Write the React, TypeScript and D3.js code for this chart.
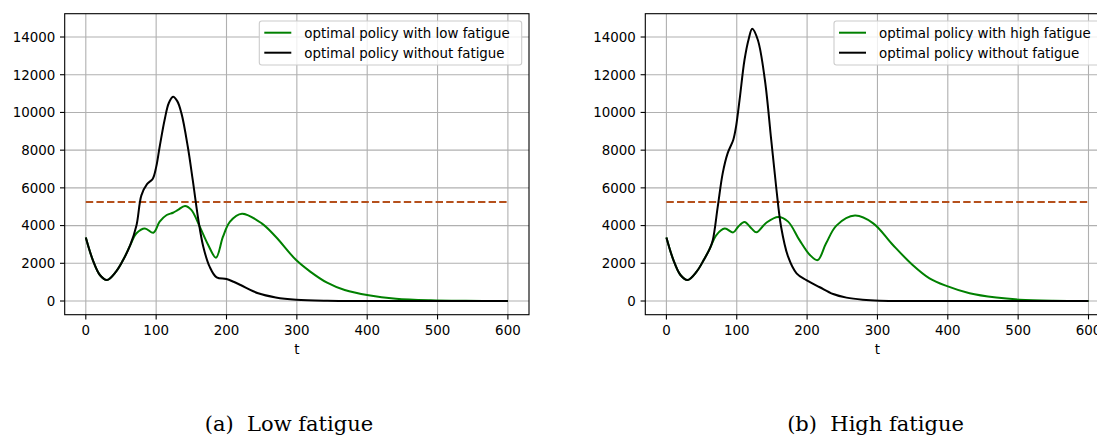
import React, { useEffect, useRef } from "react";
import * as d3 from "d3";

// Low fatigue panel
const tLowFatigue = [0, 10, 20, 30, 43, 53, 63, 72, 84, 96, 105, 115, 124, 131, 141, 150, 162, 174, 185, 195, 205, 222, 250, 270, 299, 319, 343, 368, 402, 441, 490, 540, 600];
const valLowFatigue = [3370, 2170, 1380, 1110, 1560, 2170, 2950, 3590, 3850, 3620, 4210, 4560, 4680, 4830, 5040, 4830, 3940, 2970, 2300, 3410, 4210, 4630, 4120, 3410, 2170, 1560, 970, 580, 300, 120, 35, 8, 2];
const tLowNoFatigue = [0, 10, 20, 30, 43, 53, 63, 72, 79, 87, 95, 100, 105, 112, 118, 124, 130, 136, 145, 152, 160, 167, 176, 186, 200, 210, 220, 245, 270, 299, 343, 400, 600];
const valLowNoFatigue = [3370, 2170, 1380, 1110, 1560, 2170, 2950, 4000, 5600, 6200, 6470, 7100, 8180, 9600, 10500, 10830, 10600, 9950, 8180, 6420, 4300, 2880, 1820, 1250, 1170, 1020, 850, 410, 190, 70, 15, 2, 0];

// High fatigue panel
const tHighFatigue = [0, 10, 20, 30, 43, 53, 62, 71, 83, 95, 102, 111, 121, 128, 142, 159, 173, 189, 204, 215, 227, 242, 268, 294, 322, 350, 374, 398, 431, 469, 502, 550, 600];
const valHighFatigue = [3370, 2170, 1380, 1110, 1560, 2170, 2800, 3500, 3840, 3640, 3940, 4190, 3850, 3640, 4150, 4460, 4210, 3240, 2440, 2170, 3060, 4010, 4530, 4120, 2970, 1910, 1200, 800, 410, 180, 70, 15, 2];
const tHighNoFatigue = [0, 10, 20, 30, 43, 53, 62, 66, 73, 80, 87, 95, 99, 104, 111, 117, 122, 130, 140, 149, 156, 163, 173, 185, 199, 218, 237, 256, 279, 303, 350, 600];
const valHighNoFatigue = [3370, 2170, 1380, 1110, 1560, 2170, 2800, 3240, 5000, 6770, 7830, 8540, 9250, 10660, 12780, 13900, 14440, 13840, 11720, 8540, 6060, 3940, 2350, 1470, 1110, 730, 370, 180, 70, 20, 3, 0];

const threshold = 5250;
const thresholdRange = [0, 600];
const xTicks = [0, 100, 200, 300, 400, 500, 600];
const yTicks = [0, 2000, 4000, 6000, 8000, 10000, 12000, 14000];

const FONT = "DejaVu Sans, sans-serif";

interface PanelSpec {
  left: number;
  right: number;
  fatigueLabel: string;
  noFatigueLabel: string;
  tFat: number[];
  vFat: number[];
  tNo: number[];
  vNo: number[];
  caption: string;
  captionX: number;
  legendX: number;
  legendW: number;
}

const panels: PanelSpec[] = [
  {
    left: 64.7, right: 529,
    fatigueLabel: "optimal policy with low fatigue",
    noFatigueLabel: "optimal policy without fatigue",
    tFat: tLowFatigue, vFat: valLowFatigue, tNo: tLowNoFatigue, vNo: valLowNoFatigue,
    caption: "(a)  Low fatigue", captionX: 289, legendX: 259.3, legendW: 262.4,
  },
  {
    left: 645.3, right: 1109.6,
    fatigueLabel: "optimal policy with high fatigue",
    noFatigueLabel: "optimal policy without fatigue",
    tFat: tHighFatigue, vFat: valHighFatigue, tNo: tHighNoFatigue, vNo: valHighNoFatigue,
    caption: "(b)  High fatigue", captionX: 875.5, legendX: 834, legendW: 268.5,
  },
];

const App: React.FC = () => {
  const svgRef = useRef<SVGSVGElement>(null);

  useEffect(() => {
    if (!svgRef.current) return;
    const root = d3.select(svgRef.current);
    root.selectAll("*").remove();

    const top = 13.7;
    const bottom = 314.7;

    const y = d3.scaleLinear().domain([-726, 15236]).range([bottom, top]);

    panels.forEach((p, i) => {
      const x = d3.scaleLinear().domain([-30, 630]).range([p.left, p.right]);
      const g = root.append("g");
      const clipId = `clip-${i}`;
      g.append("clipPath")
        .attr("id", clipId)
        .append("rect")
        .attr("x", p.left)
        .attr("y", top)
        .attr("width", p.right - p.left)
        .attr("height", bottom - top);

      // Grid
      g.selectAll(".gx")
        .data(xTicks)
        .enter()
        .append("line")
        .attr("x1", (d) => x(d))
        .attr("x2", (d) => x(d))
        .attr("y1", top)
        .attr("y2", bottom)
        .attr("stroke", "#b0b0b0")
        .attr("stroke-width", 1.1);
      g.selectAll(".gy")
        .data(yTicks)
        .enter()
        .append("line")
        .attr("x1", p.left)
        .attr("x2", p.right)
        .attr("y1", (d) => y(d))
        .attr("y2", (d) => y(d))
        .attr("stroke", "#b0b0b0")
        .attr("stroke-width", 1.1);

      const plot = g.append("g").attr("clip-path", `url(#${clipId})`);

      // Threshold
      plot
        .append("line")
        .attr("x1", x(thresholdRange[0]))
        .attr("x2", x(thresholdRange[1]))
        .attr("y1", y(threshold))
        .attr("y2", y(threshold))
        .attr("stroke", "#b5501c")
        .attr("stroke-width", 2)
        .attr("stroke-dasharray", "7.4,3.2");

      const line = d3
        .line<[number, number]>()
        .x((d) => x(d[0]))
        .y((d) => y(d[1]))
        .curve(d3.curveCatmullRom.alpha(0.5));

      plot
        .append("path")
        .attr("d", line(d3.zip(p.tFat, p.vFat) as [number, number][]))
        .attr("fill", "none")
        .attr("stroke", "#008000")
        .attr("stroke-width", 2);
      plot
        .append("path")
        .attr("d", line(d3.zip(p.tNo, p.vNo) as [number, number][]))
        .attr("fill", "none")
        .attr("stroke", "#000000")
        .attr("stroke-width", 2);

      // Frame
      g.append("rect")
        .attr("x", p.left)
        .attr("y", top)
        .attr("width", p.right - p.left)
        .attr("height", bottom - top)
        .attr("fill", "none")
        .attr("stroke", "#000")
        .attr("stroke-width", 1.1);

      // Ticks
      g.selectAll(".tx")
        .data(xTicks)
        .enter()
        .append("line")
        .attr("x1", (d) => x(d))
        .attr("x2", (d) => x(d))
        .attr("y1", bottom)
        .attr("y2", bottom + 4.7)
        .attr("stroke", "#000")
        .attr("stroke-width", 1.1);
      g.selectAll(".txl")
        .data(xTicks)
        .enter()
        .append("text")
        .attr("x", (d) => x(d))
        .attr("y", 335)
        .attr("text-anchor", "middle")
        .style("font-family", FONT)
        .style("font-size", "13.4px")
        .text((d) => String(d));
      g.selectAll(".ty")
        .data(yTicks)
        .enter()
        .append("line")
        .attr("x1", p.left - 4.7)
        .attr("x2", p.left)
        .attr("y1", (d) => y(d))
        .attr("y2", (d) => y(d))
        .attr("stroke", "#000")
        .attr("stroke-width", 1.1);
      g.selectAll(".tyl")
        .data(yTicks)
        .enter()
        .append("text")
        .attr("x", p.left - 9.4)
        .attr("y", (d) => y(d))
        .attr("dy", "0.36em")
        .attr("text-anchor", "end")
        .style("font-family", FONT)
        .style("font-size", "13.4px")
        .text((d) => String(d));

      // Axis label
      g.append("text")
        .attr("x", (p.left + p.right) / 2)
        .attr("y", 354)
        .attr("text-anchor", "middle")
        .style("font-family", FONT)
        .style("font-size", "13.4px")
        .text("t");

      // Legend
      const lg = g.append("g");
      lg.append("rect")
        .attr("x", p.legendX)
        .attr("y", 21)
        .attr("width", p.legendW)
        .attr("height", 44)
        .attr("rx", 2.5)
        .attr("fill", "rgba(255,255,255,0.8)")
        .attr("stroke", "#cccccc")
        .attr("stroke-width", 1.1);
      const items = [
        { label: p.fatigueLabel, color: "#008000" },
        { label: p.noFatigueLabel, color: "#000000" },
      ];
      items.forEach((it, k) => {
        const yy = 32.7 + k * 20;
        lg.append("line")
          .attr("x1", p.legendX + 5)
          .attr("x2", p.legendX + 32)
          .attr("y1", yy)
          .attr("y2", yy)
          .attr("stroke", it.color)
          .attr("stroke-width", 2);
        lg.append("text")
          .attr("x", p.legendX + 45)
          .attr("y", yy)
          .attr("dy", "0.36em")
          .style("font-family", FONT)
          .style("font-size", "13.4px")
          .text(it.label);
      });

      // Caption
      g.append("text")
        .attr("x", p.captionX)
        .attr("y", 431)
        .attr("text-anchor", "middle")
        .style("font-family", "DejaVu Serif, serif")
        .style("font-size", "21px")
        .style("white-space", "pre")
        .text(p.caption);
    });
  }, []);

  return (
    <svg
      ref={svgRef}
      width={1097}
      height={436}
      style={{ position: "absolute", left: 0, top: 0, background: "#fff" }}
    ></svg>
  );
};

export default App;
